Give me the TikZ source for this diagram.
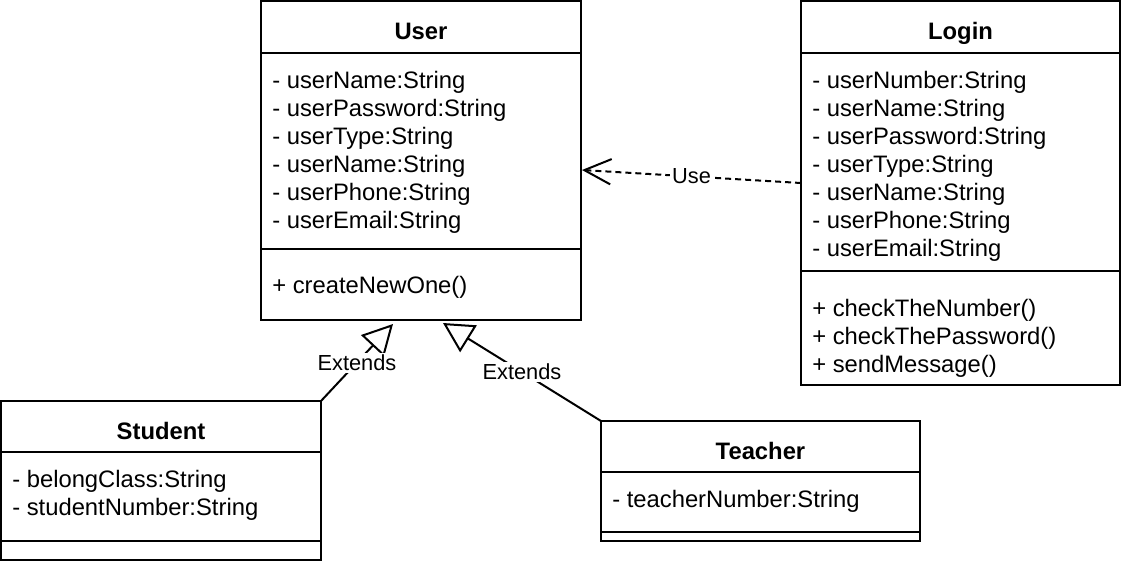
\documentclass[tikz,border=0pt]{standalone}
\usepackage{fontspec}
\setmainfont{Liberation Sans}
\usetikzlibrary{arrows.meta}
\tikzset{
	classbox/.style={draw, line width=1.5pt, outer sep=0pt, inner sep=0pt, anchor=north west},
	classline/.style={line width=1.5pt},
	ctitle/.style={font=\fontsize{17.85}{21}\selectfont\bfseries, inner sep=0pt, anchor=base},
	member/.style={font=\fontsize{17.85}{21}\selectfont, inner sep=0pt, anchor=base west},
	elabel/.style={font=\fontsize{16.35}{19}\selectfont, fill=white, inner sep=1.5pt},
	extends/.style={line width=1.5pt, -{Triangle[open, length=22.5pt, width=23.5pt]}},
	depend/.style={line width=1.5pt, dash pattern=on 4.5pt off 3pt, -{Straight Barb[length=20pt, width=19pt]}}
}
\begin{document}
\begin{tikzpicture}[x=0.75pt, y=-0.75pt]
		\useasboundingbox (0,0) rectangle (1122,562);

		% User
		\node[classbox, minimum width=240pt, minimum height=239.25pt] (user) at (261,1) {};
		\draw[classline] (261,53) -- (581,53);
		\draw[classline] (261,249) -- (581,249);
		\node[ctitle] (userT) at (421,39) {User};
		\node[member] (ua1) at (272,88) {- userName:String};
		\node[member] (ua2) at (272,116) {- userPassword:String};
		\node[member] (ua3) at (272,144) {- userType:String};
		\node[member] (ua4) at (272,172) {- userName:String};
		\node[member] (ua5) at (272,200) {- userPhone:String};
		\node[member] (ua6) at (272,228) {- userEmail:String};
		\node[member] (um1) at (272,293) {+ createNewOne()};

		% Login
		\node[classbox, minimum width=239.25pt, minimum height=288pt] (login) at (801,1) {};
		\draw[classline] (801,53) -- (1120,53);
		\draw[classline] (801,271) -- (1120,271);
		\node[ctitle] (loginT) at (960.5,39) {Login};
		\node[member] (la1) at (812,88) {- userNumber:String};
		\node[member] (la2) at (812,116) {- userName:String};
		\node[member] (la3) at (812,144) {- userPassword:String};
		\node[member] (la4) at (812,172) {- userType:String};
		\node[member] (la5) at (812,200) {- userName:String};
		\node[member] (la6) at (812,228) {- userPhone:String};
		\node[member] (la7) at (812,256) {- userEmail:String};
		\node[member] (lm1) at (812,316) {+ checkTheNumber()};
		\node[member] (lm2) at (812,344) {+ checkThePassword()};
		\node[member] (lm3) at (812,372) {+ sendMessage()};

		% Student
		\node[classbox, minimum width=240pt, minimum height=119.25pt] (student) at (1,401) {};
		\draw[classline] (1,452) -- (321,452);
		\draw[classline] (1,541) -- (321,541);
		\node[ctitle] (studentT) at (161,439.5) {Student};
		\node[member] (sa1) at (12,487) {- belongClass:String};
		\node[member] (sa2) at (12,515) {- studentNumber:String};

		% Teacher
		\node[classbox, minimum width=239.25pt, minimum height=90pt] (teacher) at (601,421) {};
		\draw[classline] (601,472) -- (920,472);
		\draw[classline] (601,532) -- (920,532);
		\node[ctitle] (teacherT) at (760.5,459) {Teacher};
		\node[member] (ta1) at (612,507) {- teacherNumber:String};

		% relations
		\coordinate (useTip) at (582,170);
		\coordinate (useTail) at (801,183);
		\coordinate (stuTip) at (393,324);
		\coordinate (teaTip) at (443,323);

		\draw[depend] (useTail) -- node[elabel] (useL) {Use} (useTip);
		\draw[extends] (student.north east) -- node[elabel] (stuL) {Extends} (stuTip);
		\draw[extends] (teacher.north west) -- node[elabel] (teaL) {Extends} (teaTip);
	\end{tikzpicture}
\end{document}
